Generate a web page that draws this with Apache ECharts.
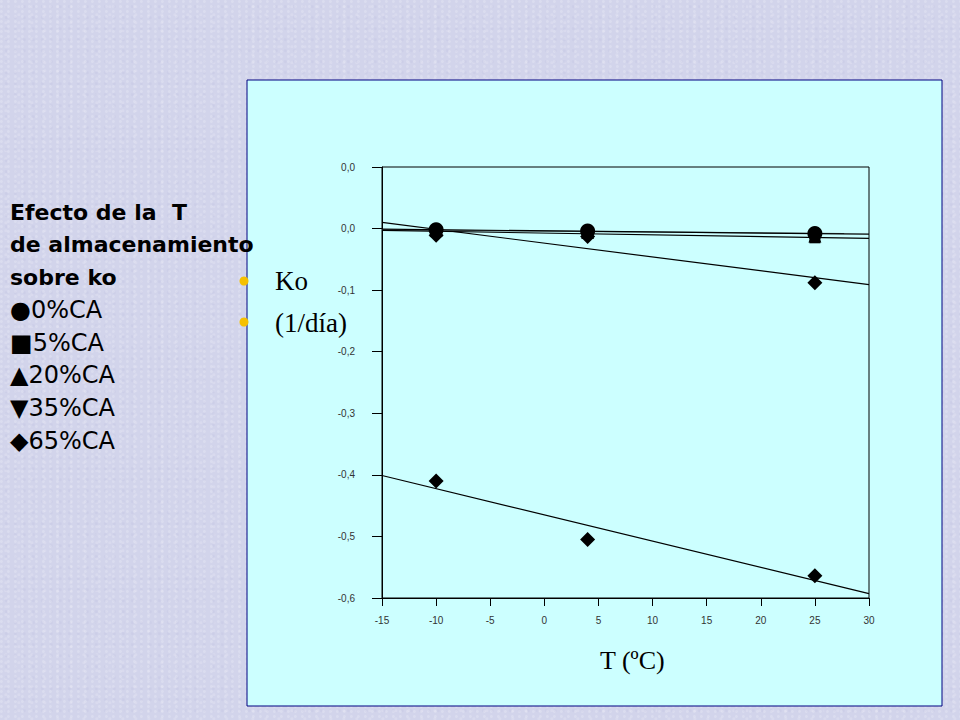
<!DOCTYPE html>
<html>
<head>
<meta charset="utf-8">
<script src="https://cdn.jsdelivr.net/npm/echarts@6/dist/echarts.min.js"></script>
<style>
html,body{margin:0;padding:0;}
body{
  background-color:#d2d4eb;
  background-image:
    radial-gradient(circle at 20% 30%, rgba(255,255,255,0.18) 0 1px, transparent 2px),
    radial-gradient(circle at 70% 60%, rgba(185,188,222,0.22) 0 1px, transparent 2px),
    radial-gradient(circle at 45% 85%, rgba(255,255,255,0.15) 0 1px, transparent 2px);
  background-size:7px 5px, 9px 11px, 13px 8px;
}
#chart{width:960px;height:720px;}
</style>
</head>
<body>
<div id="chart"></div>
<script>
// ---- data ----
const T = [-10, 4, 25];
const ko0 = [-0.002, -0.004, -0.008];   // 0%CA circles
const ko5 = [-0.005, -0.008, -0.015];   // 5%CA squares
const ko20 = [-0.003, -0.006, -0.012];  // 20%CA triangles
const ko35 = [-0.011, -0.013, -0.088];  // 35%CA (drawn as diamonds in the picture)
const ko65 = [-0.410, -0.505, -0.564];  // 65%CA diamonds

// trend lines (end points)
const trendX = [-15, 30];
const trendXShort = [-15, 27.7];
const trend0 = [-0.001, -0.009];
const trend5 = [-0.003, -0.016];
const trend20 = [-0.002, -0.008];
const trend35 = [0.010, -0.091];
const trend65 = [-0.401, -0.593];

const yTickLabels = ['-0,6', '-0,5', '-0,4', '-0,3', '-0,2', '-0,1', '0,0', '0,0'];
const xTickLabels = ['-15', '-10', '-5', '0', '5', '10', '15', '20', '25', '30'];

const titleLines = ['Efecto de la  T', 'de almacenamiento', 'sobre ko'];
const legendLines = ['\u25CF0%CA', '\u25A05%CA', '\u25B220%CA', '\u25BC35%CA', '\u25C665%CA'];
const bulletLines = ['Ko', '(1/d\u00EDa)'];
const xAxisTitle = 'T (\u00BAC)';

function pts(xs, ys) { return xs.map((x, i) => [x, ys[i]]); }

const chart = echarts.init(document.getElementById('chart'), null, { renderer: 'svg', width: 960, height: 720 });

const graphics = [
  { type: 'rect', z: -10, shape: { x: 247, y: 80, width: 695, height: 626 },
    style: { fill: '#ccffff', stroke: '#000080', lineWidth: 1 } }
];
titleLines.forEach((t, i) => graphics.push({
  type: 'text', left: 10, top: 201 + i * 32.7, z: 5,
  style: { text: t, font: 'bold 22px "DejaVu Sans"', fill: '#000' }
}));
legendLines.forEach((t, i) => graphics.push({
  type: 'text', left: 10, top: 298 + i * 32.7, z: 5,
  style: { text: t, font: '24px "DejaVu Sans"', fill: '#000' }
}));
bulletLines.forEach((t, i) => {
  graphics.push({ type: 'circle', z: 5, shape: { cx: 244, cy: 281 + i * 41, r: 4.5 }, style: { fill: '#f5c000' } });
  graphics.push({ type: 'text', left: 275, top: 267 + i * 42, z: 5,
    style: { text: t, font: '27px "Liberation Serif"', fill: '#000' } });
});
graphics.push({ type: 'text', left: 600, top: 647, z: 5,
  style: { text: xAxisTitle, font: '26px "Liberation Serif"', fill: '#000' } });

function trend(name, xs, ys, color) {
  return { name: name, type: 'line', data: pts(xs, ys), symbol: 'none', silent: true,
    lineStyle: { color: color || '#000', width: 1.2 }, z: 3, animation: false };
}
function scatter(name, ys, symbol, size, z) {
  return { name: name, type: 'scatter', data: pts(T, ys), symbol: symbol, symbolSize: size,
    itemStyle: { color: '#000', opacity: 1 }, z: z, animation: false };
}

chart.setOption({
  backgroundColor: 'transparent',
  animation: false,
  graphic: graphics,
  grid: { left: 382, right: 91, top: 167, bottom: 122, show: true, borderColor: '#000', borderWidth: 1, backgroundColor: 'transparent' },
  xAxis: {
    type: 'value', min: -15, max: 30, interval: 5,
    axisLine: { show: true, onZero: false, lineStyle: { color: '#000', width: 1 } },
    axisTick: { show: true, length: 8, lineStyle: { color: '#000' } },
    splitLine: { show: false },
    axisLabel: { fontSize: 10, color: '#333', fontFamily: 'Liberation Sans', margin: 17,
      formatter: v => xTickLabels[Math.round((v + 15) / 5)] }
  },
  yAxis: {
    type: 'value', min: -0.6, max: 0.1, interval: 0.1,
    axisLine: { show: true, onZero: false, lineStyle: { color: '#000', width: 1 } },
    axisTick: { show: true, length: 10, lineStyle: { color: '#000' } },
    splitLine: { show: false },
    axisLabel: { fontSize: 10, color: '#333', fontFamily: 'Liberation Sans', margin: 27,
      formatter: v => yTickLabels[Math.round((v + 0.6) / 0.1)] }
  },
  series: [
    trend('t65', trendX, trend65),
    trend('t35', trendX, trend35),
    trend('t20', trendXShort, trend20, '#5a6e6e'),
    trend('t5', trendX, trend5),
    trend('t0', trendX, trend0),
    scatter('65%CA', ko65, 'diamond', 15, 4),
    scatter('35%CA', ko35, 'diamond', 15, 4),
    scatter('20%CA', ko20, 'triangle', 13, 5),
    scatter('5%CA', ko5, 'rect', 11, 5),
    scatter('0%CA', ko0, 'circle', 15, 6)
  ]
});
</script>
</body>
</html>
